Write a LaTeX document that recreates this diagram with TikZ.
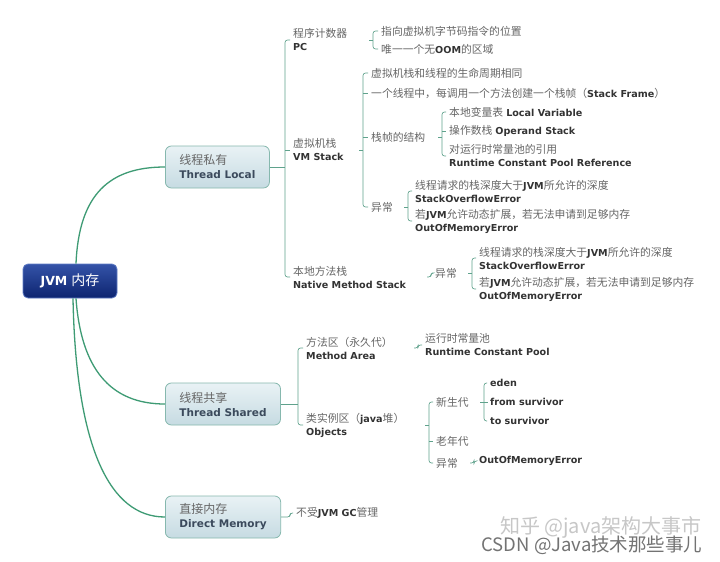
\documentclass[tikz,border=0pt]{standalone}
\usepackage{fontspec}
\setmainfont{DejaVu Sans}
\newfontfamily\cjk{Noto Sans CJK SC}
\usepackage{tikz}
\usetikzlibrary{positioning, calc}
\definecolor{branch}{HTML}{3E9B74}
\definecolor{bracket}{HTML}{5FA28C}
\definecolor{zhgray}{HTML}{666666}
\definecolor{engray}{HTML}{333333}
\definecolor{topicink}{HTML}{3B4A5C}
\definecolor{boxtop}{HTML}{E9F2F5}
\definecolor{boxbot}{HTML}{C6DBE2}
\definecolor{boxedge}{HTML}{86B8AE}
\definecolor{roottop}{HTML}{3453A8}
\definecolor{rootbot}{HTML}{0D2470}
\definecolor{rootedge}{HTML}{5F7CC4}
\newcommand{\zh}[1]{{\cjk\fontsize{10.8}{13}\selectfont\color{zhgray}#1}}
\newcommand{\en}[1]{{\bfseries\color{engray}#1}}
\newcommand{\tzh}[1]{{\cjk\fontsize{12}{14}\selectfont\color{zhgray}#1}}
\newcommand{\ten}[1]{{\bfseries\color{topicink}#1}}
\begin{document}
\begin{tikzpicture}[x=1pt, y=-1pt,
  txt/.style={anchor=west, inner sep=0pt, align=left, font=\fontsize{9.6}{13}\selectfont},
  br/.style={draw=bracket, line width=0.65pt, rounded corners=2.5pt},
  branchline/.style={draw=branch, line width=1.3pt},
  topic/.style={anchor=west, draw=boxedge, line width=0.8pt, rounded corners=6pt,
    top color=boxtop, bottom color=boxbot, inner xsep=14pt, minimum height=42pt,
    align=left, font=\fontsize{10.5}{14}\selectfont},
  rootbox/.style={draw=rootedge, line width=0.8pt, rounded corners=5pt,
    top color=roottop, bottom color=rootbot, minimum width=94pt, minimum height=34pt,
    text=white, font=\fontsize{12.5}{15}\selectfont}]
\fill[white] (0,0) rectangle (720,562);
\useasboundingbox (0,0) rectangle (720,562);
% root and main topics
\node[rootbox] (jvm) at (70,281) {\textbf{JVM} {\cjk\fontsize{14}{16}\selectfont 内存}};
\node[topic] (tl) at (165,167) {\tzh{线程私有}\\\ten{Thread Local}};
\node[topic] (tsh) at (165,404) {\tzh{线程共享}\\\ten{Thread Shared}};
\node[topic] (dm) at (165,517) {\tzh{直接内存}\\\ten{Direct Memory}};
\draw[branchline] ([xshift=6pt]jvm.north) .. controls +(3,-70) and +(-55,0) .. (tl.west);
\draw[branchline] ([xshift=6pt]jvm.south) .. controls +(5,70) and +(-55,0) .. (tsh.west);
\draw[branchline] ([xshift=3pt]jvm.south) .. controls +(3,150) and +(-55,0) .. (dm.west);
%
% thread local
\node[txt] (pc) at (293,40) {\zh{程序计数器}\\\en{PC}};
\node[txt] (vms) at (293,150) {\zh{虚拟机栈}\\\en{VM Stack}};
\node[txt] (nms) at (293,277) {\zh{本地方法栈}\\\en{Native Method Stack}};
\node[txt] (pc1) at (381,31) {\zh{指向虚拟机字节码指令的位置}};
\node[txt] (pc2) at (381,49) {\zh{唯一一个无}\en{OOM}\zh{的区域}};
\node[txt] (vs1) at (371,73) {\zh{虚拟机栈和线程的生命周期相同}};
\node[txt] (vs2) at (371,93) {\zh{一个线程中，每调用一个方法创建一个栈帧（}\en{Stack Frame}\zh{）}};
\node[txt] (vs3) at (371,137) {\zh{栈帧的结构}};
\node[txt] (vs4) at (371,207) {\zh{异常}};
\node[txt] (sf1) at (449,112) {\zh{本地变量表} \en{Local Variable}};
\node[txt] (sf2) at (449,131) {\zh{操作数栈} \en{Operand Stack}};
\node[txt] (sf3) at (449,156) {\zh{对运行时常量池的引用}\\\en{Runtime Constant Pool Reference}};
\node[txt] (ex1) at (415,191) {\zh{线程请求的栈深度大于}\en{JVM}\zh{所允许的深度}\\\en{StackOverflowError}};
\node[txt] (ex2) at (415,221) {\zh{若}\en{JVM}\zh{允许动态扩展，若无法申请到足够内存}\\\en{OutOfMemoryError}};
\node[txt] (nex) at (435,273) {\zh{异常}};
\node[txt] (nx1) at (479,258) {\zh{线程请求的栈深度大于}\en{JVM}\zh{所允许的深度}\\\en{StackOverflowError}};
\node[txt] (nx2) at (479,289) {\zh{若}\en{JVM}\zh{允许动态扩展，若无法申请到足够内存}\\\en{OutOfMemoryError}};
%
% thread shared
\node[txt] (ma) at (306,348) {\zh{方法区（永久代）}\\\en{Method Area}};
\node[txt] (obj) at (306,425) {\zh{类实例区（}\en{java}\zh{堆）}\\\en{Objects}};
\node[txt] (rcp) at (425,345) {\zh{运行时常量池}\\\en{Runtime Constant Pool}};
\node[txt] (ng) at (436,402) {\zh{新生代}};
\node[txt] (og) at (436,441) {\zh{老年代}};
\node[txt] (oex) at (436,463) {\zh{异常}};
\node[txt] (eden) at (490,383) {\en{eden}};
\node[txt] (fsv) at (490,402) {\en{from survivor}};
\node[txt] (tsv) at (490,421) {\en{to survivor}};
\node[txt] (oom) at (479,461) {\en{OutOfMemoryError}};
%
% direct memory
\node[txt] (gc) at (296,513) {\zh{不受}\en{JVM GC}\zh{管理}};
%
% bracket columns
\coordinate (btl) at (285,0);
\coordinate (bpc) at (373,0);
\coordinate (bvs) at (363,0);
\coordinate (bsf) at (442,0);
\coordinate (bex) at (408,0);
\coordinate (bnm) at (431,0);
\coordinate (bnx) at (472,0);
\coordinate (bts) at (298,0);
\coordinate (bma) at (418,0);
\coordinate (bob) at (429,0);
\coordinate (bng) at (484,0);
\coordinate (boe) at (474,0);
\coordinate (bdm) at (290,0);
%
\draw[br] (tl.east) -- (tl.east -| btl);
\draw[br] ([xshift=-3pt]pc.west) -- (pc.west -| btl) -- (nms.west -| btl) -- ([xshift=-3pt]nms.west);
\draw[br] (vms.west -| btl) -- ++(5,0);
%
\draw[br] (pc.east -| bpc) -- ++(-4,0);
\draw[br] ([xshift=-3pt]pc1.west) -- (pc1.west -| bpc) -- (pc2.west -| bpc) -- ([xshift=-3pt]pc2.west);
%
\draw[br] (vms.east -| bvs) -- ++(-4,0);
\draw[br] ([xshift=-3pt]vs1.west) -- (vs1.west -| bvs) -- (vs4.west -| bvs) -- ([xshift=-3pt]vs4.west);
\draw[br] (vs2.west -| bvs) -- ++(5,0);
\draw[br] (vs3.west -| bvs) -- ++(5,0);
%
\draw[br] (vs3.east -| bsf) -- ++(-4,0);
\draw[br] ([xshift=-3pt]sf1.west) -- (sf1.west -| bsf) -- (sf3.west -| bsf) -- ([xshift=-3pt]sf3.west);
\draw[br] (sf2.west -| bsf) -- ++(4,0);
%
\draw[br] (vs4.east -| bex) -- ++(-4,0);
\draw[br] ([xshift=-3pt]ex1.west) -- (ex1.west -| bex) -- (ex2.west -| bex) -- ([xshift=-3pt]ex2.west);
%
\draw[br] (nms.east -| bnm) ++(-4,0) -- ++(4,0) |- ([xshift=-3pt]nex.west);
\draw[br] (nex.east -| bnx) -- ++(-4,0);
\draw[br] ([xshift=-3pt]nx1.west) -- (nx1.west -| bnx) -- (nx2.west -| bnx) -- ([xshift=-3pt]nx2.west);
%
\draw[br] (tsh.east) -- (tsh.east -| bts);
\draw[br] ([xshift=-3pt]ma.west) -- (ma.west -| bts) -- (obj.west -| bts) -- ([xshift=-3pt]obj.west);
\draw[br] (ma.east -| bma) ++(-4,0) -- ++(4,0) |- ([xshift=-3pt]rcp.west);
\draw[br] (obj.east -| bob) -- ++(-4,0);
\draw[br] ([xshift=-3pt]ng.west) -- (ng.west -| bob) -- (oex.west -| bob) -- ([xshift=-3pt]oex.west);
\draw[br] (og.west -| bob) -- ++(4,0);
\draw[br] (ng.east -| bng) -- ++(-4,0);
\draw[br] ([xshift=-3pt]eden.west) -- (eden.west -| bng) -- (tsv.west -| bng) -- ([xshift=-3pt]tsv.west);
\draw[br] (fsv.west -| bng) -- ++(4,0);
\draw[br] (oex.east -| boe) ++(-4,0) -- ++(4,0) |- ([xshift=-3pt]oom.west);
%
\draw[br] (dm.east) -- (dm.east -| bdm) |- ([xshift=-3pt]gc.west);
%
% watermarks
\node[font=\cjk\fontsize{20}{22}\selectfont, text=black!22, anchor=east] (zhihu) at (705,527) {知乎 @java架构大事市};
\node[font=\cjk\fontsize{18.5}{20}\selectfont, text=black!55, anchor=east] (csdn) at (706,545) {CSDN @Java技术那些事儿};
\end{tikzpicture}
\end{document}
